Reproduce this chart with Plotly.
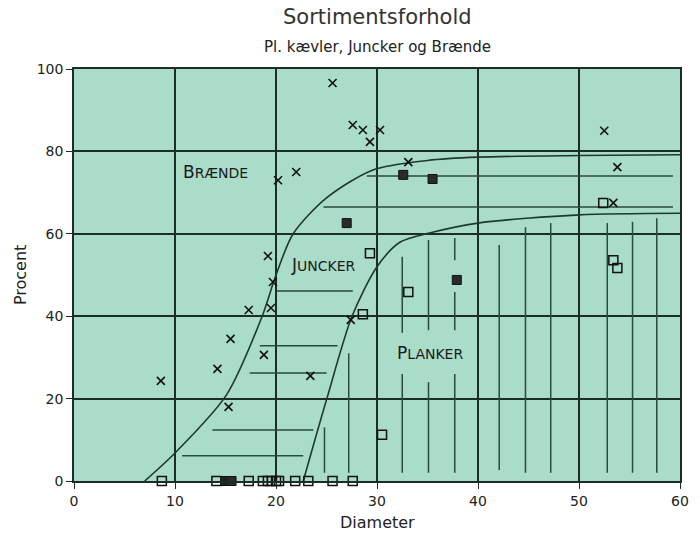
import plotly.graph_objects as go

# ---- data ----
brende_x = [8.6, 14.2, 15.5, 15.3, 17.3, 18.8, 19.5, 19.2, 19.7, 20.2, 22.0, 23.4, 25.6, 27.6, 28.6, 29.3, 30.3, 33.1, 52.5, 53.8, 53.4, 27.4]
brende_y = [24.3, 27.2, 34.5, 18.0, 41.5, 30.6, 42.0, 54.6, 48.3, 73.0, 75.0, 25.5, 96.6, 86.4, 85.2, 82.3, 85.2, 77.4, 85.0, 76.2, 67.5, 39.1]

juncker_x = [29.3, 33.1, 28.6, 30.5, 52.4, 53.4, 53.8,
             8.7, 14.1, 17.3, 18.7, 19.2, 19.6, 20.0, 20.3, 21.9, 23.2, 25.6, 27.6]
juncker_y = [55.3, 45.9, 40.5, 11.2, 67.5, 53.6, 51.7,
             0, 0, 0, 0, 0, 0, 0, 0, 0, 0, 0, 0]

planker_x = [27.0, 32.6, 35.5, 37.9, 15.0, 15.3, 15.6]
planker_y = [62.6, 74.3, 73.3, 48.8, 0, 0, 0]

upper_x = [7, 10, 15.1, 18.6, 20, 21.7, 25, 29.6, 35, 40, 50, 60]
upper_y = [0, 6.8, 20.9, 39.8, 50, 60, 68.7, 75.5, 77.8, 78.6, 79.0, 79.2]

lower_x = [22.7, 25, 27.5, 30, 32.3, 35.2, 40, 50, 60]
lower_y = [0, 19.7, 39.8, 52, 58, 60.2, 62.6, 64.6, 65]

# horizontal hatch segments (x start, x end, y) in the Juncker zone
hatch_h_x0 = [10.7, 13.7, 17.4, 18.4, 20.1, 24.7, 29.0]
hatch_h_x1 = [22.7, 23.7, 25.0, 26.1, 27.6, 59.3, 59.3]
hatch_h_y = [6.1, 12.4, 26.2, 32.8, 46.1, 66.5, 74.0]

# vertical hatch segments (x, y start, y end) in the Planker zone
hatch_v_x = [24.8, 27.2, 32.5, 32.5, 35.1, 35.1, 37.7, 37.7, 37.7, 42.1, 44.7, 47.2, 52.8, 55.3, 57.7]
hatch_v_y0 = [2, 2, 2, 36, 2, 36.6, 2, 36.6, 53.6, 2.7, 2, 2, 2, 2, 2]
hatch_v_y1 = [13, 31, 26, 54.4, 24, 58.5, 26, 45.9, 59, 57.3, 61.6, 62.6, 62.6, 62.9, 63.8]

zone_labels = ["B<span style='font-size:14px'>RÆNDE</span>", "J<span style='font-size:14px'>UNCKER</span>", "P<span style='font-size:14px'>LANKER</span>"]
zone_x = [14.0, 24.7, 35.2]
zone_y = [75.0, 52.4, 31.0]

x_ticks = [0, 10, 20, 30, 40, 50, 60]
y_ticks = [0, 20, 40, 60, 80, 100]

INK = "#1c2e24"
fig = go.Figure()

hx, hy = [], []
for a, b, y in zip(hatch_h_x0, hatch_h_x1, hatch_h_y):
    hx += [a, b, None]
    hy += [y, y, None]
fig.add_trace(go.Scatter(x=hx, y=hy, mode="lines", line=dict(color="#2a4a3a", width=1.5), hoverinfo="skip"))

vx, vy = [], []
for x, a, b in zip(hatch_v_x, hatch_v_y0, hatch_v_y1):
    vx += [x, x, None]
    vy += [a, b, None]
fig.add_trace(go.Scatter(x=vx, y=vy, mode="lines", line=dict(color="#2a4a3a", width=1.5), hoverinfo="skip"))

fig.add_trace(go.Scatter(x=upper_x, y=upper_y, mode="lines", line=dict(color="#1f3a2c", width=1.6, shape="spline", smoothing=0.8)))
fig.add_trace(go.Scatter(x=lower_x, y=lower_y, mode="lines", line=dict(color="#1f3a2c", width=1.6, shape="spline", smoothing=0.8)))

fig.add_trace(go.Scatter(x=brende_x, y=brende_y, mode="markers",
                         marker=dict(symbol="x-thin-open", size=8, color="#111", line=dict(color="#111", width=1.6))))
fig.add_trace(go.Scatter(x=juncker_x, y=juncker_y, mode="markers", cliponaxis=False,
                         marker=dict(symbol="square-open", size=9, color="#111", line=dict(color="#111", width=1.5))))
fig.add_trace(go.Scatter(x=planker_x, y=planker_y, mode="markers", cliponaxis=False,
                         marker=dict(symbol="square", size=9, color="#2b2b2b", line=dict(color="#111", width=1))))

for t, x, y in zip(zone_labels, zone_x, zone_y):
    fig.add_annotation(x=x, y=y, text=t, showarrow=False,
                       font=dict(family="DejaVu Sans", size=17, color="#1a1a1a"))

fig.add_annotation(x=0.5, y=1.126, xref="paper", yref="paper", text="Sortimentsforhold", showarrow=False,
                   font=dict(family="DejaVu Sans", size=21, color="#333"), xanchor="center", yanchor="middle")
fig.add_annotation(x=0.5, y=1.053, xref="paper", yref="paper", text="Pl. kævler, Juncker og Brænde", showarrow=False,
                   font=dict(family="DejaVu Sans", size=15, color="#222"), xanchor="center", yanchor="middle")
fig.add_annotation(x=-0.089, y=0.5, xref="paper", yref="paper", text="Procent", showarrow=False, textangle=-90,
                   font=dict(family="DejaVu Sans", size=16, color="#222"), xanchor="center", yanchor="middle")
fig.add_annotation(x=0.5, y=-0.1, xref="paper", yref="paper", text="Diameter", showarrow=False,
                   font=dict(family="DejaVu Sans", size=16, color="#222"), xanchor="center", yanchor="middle")

axis_common = dict(showgrid=True, gridcolor=INK, gridwidth=1.6, zeroline=False, automargin=False,
                   showline=True, linecolor=INK, linewidth=1.6, mirror=True,
                   ticks="outside", ticklen=6, tickcolor=INK, tickwidth=1.4,
                   tickfont=dict(family="DejaVu Sans", size=14, color="#222"))
fig.update_xaxes(range=[0, 60], tickvals=x_ticks, **axis_common)
fig.update_yaxes(range=[0, 100], tickvals=y_ticks, **axis_common)

fig.update_layout(width=700, height=534, showlegend=False,
                  paper_bgcolor="white", plot_bgcolor="#a9dcc9",
                  margin=dict(l=74, r=20, t=69, b=53))

# remove the default page margin so the 700x534 figure fills the window exactly
fig.write_html("out.html", config={"displayModeBar": False},
               post_script="document.body.style.margin='0';")
